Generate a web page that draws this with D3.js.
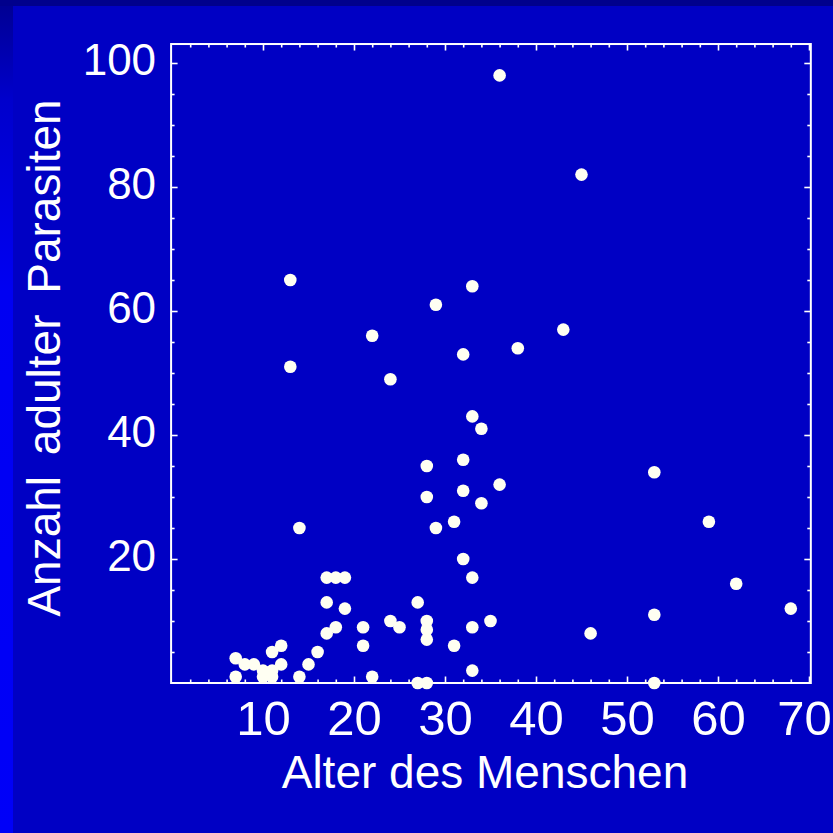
<!DOCTYPE html>
<html>
<head>
<meta charset="utf-8">
<script src="https://cdn.jsdelivr.net/npm/d3@7"></script>
<style>
  html, body { margin: 0; padding: 0; background: #0000c4; }
  svg { display: block; }
  text { font-family: "Liberation Sans", Arial, sans-serif; fill: #ffffff; }
</style>
</head>
<body>
<svg id="chart" width="833" height="833"></svg>
<script>
// Age of the host (years)
const age = [
  7, 7, 8, 9, 10, 10, 11, 11, 12, 11, 12, 13, 13, 14, 14, 15, 16,
  17, 18, 19, 17, 19, 18, 17, 21, 21, 22, 22, 24, 24, 25, 27, 27,
  28, 28, 28, 28, 28, 28, 29, 29, 31, 31, 32, 32, 32, 32, 33, 33,
  33, 33, 33, 34, 34, 35, 36, 36, 38, 43, 45, 46, 53, 53, 53, 59,
  62, 68
];
// Number of adult parasites found
const parasites = [
  4, 1, 3, 3, 2, 1, 2, 1, 3, 5, 6, 65, 51, 25, 1, 3, 5,
  17, 17, 17, 13, 12, 9, 8, 9, 6, 56, 1, 49, 10, 9, 13, 0,
  0, 35, 30, 10, 8.6, 7, 61, 25, 26, 6, 53, 36, 31, 20, 64, 43,
  17, 9, 2, 41, 29, 10, 98, 32, 54, 57, 82, 8, 34, 11, 0, 26,
  16, 12
];
const xLabels = [10, 20, 30, 40, 50, 60, 70];
const yLabels = [20, 40, 60, 80, 100];
const xMinor = d3.range(2, 71, 2).filter(v => v % 10 !== 0);
const yMinor = d3.range(5, 101, 5).filter(v => v % 20 !== 0);

const svg = d3.select("#chart");

// page background with the darker top band and the lighter left band
const defs = svg.append("defs");
const grad = defs.append("linearGradient")
  .attr("id", "edge").attr("x1", 0).attr("y1", 0).attr("x2", 0).attr("y2", 1);
grad.append("stop").attr("offset", "0").attr("stop-color", "#000090");
grad.append("stop").attr("offset", "0.12").attr("stop-color", "#0000cc");
grad.append("stop").attr("offset", "0.35").attr("stop-color", "#0000f2");
grad.append("stop").attr("offset", "1").attr("stop-color", "#0000f8");

svg.append("rect").attr("width", 833).attr("height", 833).attr("fill", "#0000c4");
svg.append("rect").attr("width", 13).attr("height", 833).attr("fill", "url(#edge)");
svg.append("rect").attr("width", 833).attr("height", 6).attr("fill", "#00008c");

const x = d3.scaleLinear().domain([0, 70]).range([172, 809]);
const y = d3.scaleLinear().domain([0, 100]).range([683, 63]);

const frameL = x(-0.1), frameR = x(70.2), frameT = y(103.06), frameB = y(0);

// ticks on all four frame sides, pointing inward
function ticks(axisFn, scale, values, len, tx, ty) {
  const g = svg.append("g")
    .attr("transform", `translate(${tx},${ty})`)
    .call(axisFn(scale).tickValues(values).tickSize(-len).tickFormat(""));
  g.select(".domain").remove();
  g.selectAll("line").attr("stroke", "#ffffff").attr("stroke-width", 1.6);
  return g;
}
ticks(d3.axisBottom, x, xMinor, 3.5, 0, frameB);
ticks(d3.axisBottom, x, xLabels, 6.5, 0, frameB);
ticks(d3.axisTop, x, xMinor, 3.5, 0, frameT);
ticks(d3.axisTop, x, xLabels, 6.5, 0, frameT);
ticks(d3.axisLeft, y, yMinor, 3.5, frameL, 0);
ticks(d3.axisLeft, y, yLabels, 6.5, frameL, 0);
ticks(d3.axisRight, y, yMinor, 3.5, frameR, 0);
ticks(d3.axisRight, y, yLabels, 6.5, frameR, 0);

// frame
svg.append("rect")
  .attr("x", frameL).attr("y", frameT)
  .attr("width", frameR - frameL).attr("height", frameB - frameT)
  .attr("fill", "none").attr("stroke", "#ffffff").attr("stroke-width", 2);

// tick labels
const xl = svg.append("g")
  .attr("transform", `translate(0,${frameB})`)
  .call(d3.axisBottom(x).tickValues(xLabels).tickSize(0).tickPadding(17));
xl.select(".domain").remove();
xl.selectAll("text")
  .attr("fill", "#ffffff").attr("font-size", 49)
  .attr("font-family", "Liberation Sans, Arial, sans-serif")
  .attr("dx", d => d === 70 ? -5 : 0);

const yl = svg.append("g")
  .attr("transform", `translate(${frameL},0)`)
  .call(d3.axisLeft(y).tickValues(yLabels).tickSize(0).tickPadding(15));
yl.select(".domain").remove();
yl.selectAll("text")
  .attr("fill", "#ffffff").attr("font-size", 44).attr("dy", "0.26em")
  .attr("font-family", "Liberation Sans, Arial, sans-serif");

// axis titles
svg.append("text")
  .attr("x", 485).attr("y", 788)
  .attr("text-anchor", "middle").attr("font-size", 46)
  .text("Alter des Menschen");
svg.append("text")
  .attr("transform", "translate(60,358) rotate(-90)")
  .attr("text-anchor", "middle").attr("font-size", 46)
  .attr("word-spacing", 8)
  .text("Anzahl adulter Parasiten");

// observations
svg.append("g").selectAll("circle")
  .data(d3.zip(age, parasites))
  .join("circle")
  .attr("cx", d => x(d[0]))
  .attr("cy", d => y(d[1]))
  .attr("r", 6.3)
  .attr("fill", "#fffff2");
</script>
</body>
</html>
